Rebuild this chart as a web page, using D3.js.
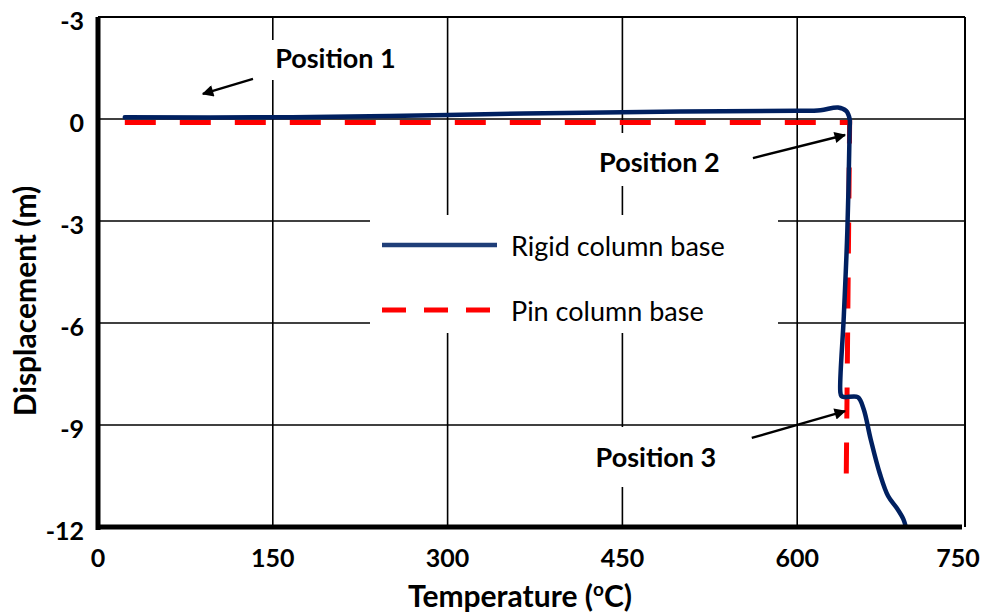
<!DOCTYPE html>
<html>
<head>
<meta charset="utf-8">
<script src="https://cdn.jsdelivr.net/npm/d3@7/dist/d3.min.js"></script>
<style>
  html, body { margin: 0; padding: 0; background: #fff; }
  svg { display: block; font-family: Lato, "Open Sans", sans-serif; }
</style>
</head>
<body>
<svg id="chart" width="985" height="615"></svg>
<script>
// ---- data ----
const xTickValues = [0, 150, 300, 450, 600, 750];
const xTickLabels = ["0", "150", "300", "450", "600", "750"];
const yTickValues = [3, 0, -3, -6, -9, -12];
const yTickLabels = ["-3", "0", "-3", "-6", "-9", "-12"];

const seriesNames = ["Rigid column base", "Pin column base"];

const rigidTemp = [23, 150, 250, 300, 400, 500, 600, 620, 635, 642, 645, 645, 643, 640, 637, 638, 641, 652, 657, 663, 671, 678, 686, 691, 693];
const rigidDisp = [0.05, 0.05, 0.09, 0.12, 0.18, 0.22, 0.24, 0.26, 0.34, 0.24, 0.0, -0.3, -3.32, -5.8, -8.03, -8.15, -8.18, -8.18, -8.53, -9.41, -10.44, -11.09, -11.47, -11.76, -11.97];

const pinTemp = [23, 645, 642];
const pinDisp = [-0.1, -0.1, -10.85];

const annotationLabels = ["Position 1", "Position 2", "Position 3"];
const annotationTextT = [152, 430, 427];
const annotationTextD = [1.82, -1.24, -9.94];
const arrowFromT = [133, 562, 561];
const arrowFromD = [1.18, -1.15, -9.38];
const arrowToT = [90, 641, 641];
const arrowToD = [0.74, -0.47, -8.59];

// ---- layout ----
const svg = d3.select("#chart");
const pL = 98, pR = 965, pT = 17, pB = 527;
const x = d3.scaleLinear().domain([0, 750]).range([98, 972]);
const y = d3.scaleLinear().domain([3, -12]).range([17, 527]);

svg.append("defs").append("marker")
  .attr("id", "arrow").attr("viewBox", "0 0 10 10")
  .attr("refX", 9).attr("refY", 5)
  .attr("markerWidth", 6.5).attr("markerHeight", 4.8)
  .attr("markerUnits", "strokeWidth")
  .attr("orient", "auto")
  .append("path").attr("d", "M0,0 L10,5 L0,10 Z").attr("fill", "#000");

// gridlines
const grid = svg.append("g");
grid.selectAll("line.v").data(xTickValues.filter(v => v > 0 && v < 750)).join("line")
  .attr("class", "v")
  .attr("x1", d => x(d)).attr("x2", d => x(d))
  .attr("y1", pT).attr("y2", pB)
  .attr("stroke", "#000").attr("stroke-width", 1.6);
grid.selectAll("line.h").data(yTickValues.filter(v => v < 3 && v > -12)).join("line")
  .attr("class", "h")
  .attr("x1", pL).attr("x2", pR)
  .attr("y1", d => y(d)).attr("y2", d => y(d))
  .attr("stroke", "#000").attr("stroke-width", 1.6);

// frame
svg.append("line").attr("x1", pL).attr("x2", pR).attr("y1", pT).attr("y2", pT)
  .attr("stroke", "#000").attr("stroke-width", 2);
svg.append("line").attr("x1", pR).attr("x2", pR).attr("y1", pT).attr("y2", pB)
  .attr("stroke", "#000").attr("stroke-width", 2);

// annotation background boxes (cover gridlines)
const boxes = [[262, 40, 143, 40], [585, 133, 145, 53], [585, 427, 140, 60]];
svg.selectAll("rect.ab").data(boxes).join("rect")
  .attr("class", "ab")
  .attr("x", d => d[0]).attr("y", d => d[1]).attr("width", d => d[2]).attr("height", d => d[3])
  .attr("fill", "#fff");

// legend background
svg.append("rect").attr("x", 370).attr("y", 215).attr("width", 408).attr("height", 118).attr("fill", "#fff");

// series
const line = d3.line().x(d => x(d[0])).y(d => y(d[1]));
const rigidPts = rigidTemp.map((t, i) => [t, rigidDisp[i]]);
const pinPts = pinTemp.map((t, i) => [t, pinDisp[i]]);

svg.append("path").datum(pinPts)
  .attr("d", line)
  .attr("fill", "none").attr("stroke", "#ff0000").attr("stroke-width", 5)
  .attr("stroke-dasharray", "31,24");

svg.append("path").datum(rigidPts)
  .attr("d", d3.line().x(d => x(d[0])).y(d => y(d[1])).curve(d3.curveCatmullRom.alpha(0.5)))
  .attr("fill", "none").attr("stroke", "#002060").attr("stroke-width", 4.5)
  .attr("stroke-linejoin", "round").attr("stroke-linecap", "round");

// axes lines (thick)
svg.append("line").attr("x1", pL).attr("x2", pL).attr("y1", pT).attr("y2", pB + 3)
  .attr("stroke", "#000").attr("stroke-width", 5);
svg.append("line").attr("x1", pL - 2).attr("x2", 962).attr("y1", pB).attr("y2", pB)
  .attr("stroke", "#000").attr("stroke-width", 5);

// tick labels
svg.append("g").selectAll("text").data(yTickValues).join("text")
  .attr("x", 84).attr("y", d => y(d) + 3)
  .attr("text-anchor", "end").attr("dominant-baseline", "central")
  .attr("font-size", 25).attr("font-weight", "bold")
  .text((d, i) => yTickLabels[i]);

svg.append("g").selectAll("text").data(xTickValues).join("text")
  .attr("x", d => Math.min(x(d), 958)).attr("y", 567)
  .attr("text-anchor", "middle")
  .attr("font-size", 25).attr("font-weight", "bold")
  .text((d, i) => xTickLabels[i]);

// axis titles
const xt = svg.append("text").attr("x", 520).attr("y", 607)
  .attr("text-anchor", "middle").attr("font-size", 30).attr("font-weight", "bold");
xt.append("tspan").text("Temperature (");
xt.append("tspan").attr("font-size", 19).attr("dy", -11).text("o");
xt.append("tspan").attr("dy", 11).text("C)");

svg.append("text")
  .attr("transform", "translate(36,301) rotate(-90)")
  .attr("text-anchor", "middle").attr("font-size", 30).attr("font-weight", "bold")
  .text("Displacement (m)");

// legend
const legY = [245, 310];
svg.append("line").attr("x1", 382).attr("x2", 497).attr("y1", legY[0]).attr("y2", legY[0])
  .attr("stroke", "#1f3e78").attr("stroke-width", 4.5);
svg.append("line").attr("x1", 382).attr("x2", 490).attr("y1", legY[1]).attr("y2", legY[1])
  .attr("stroke", "#ff0000").attr("stroke-width", 5).attr("stroke-dasharray", "24,18");
svg.selectAll("text.leg").data(seriesNames).join("text")
  .attr("class", "leg")
  .attr("x", 511).attr("y", (d, i) => legY[i])
  .attr("dominant-baseline", "central").attr("font-size", 27)
  .text(d => d);

// annotations
annotationLabels.forEach((lab, i) => {
  svg.append("text").attr("x", x(annotationTextT[i])).attr("y", y(annotationTextD[i]))
    .attr("dominant-baseline", "central").attr("font-size", 27).attr("font-weight", "bold")
    .text(lab);
  svg.append("line")
    .attr("x1", x(arrowFromT[i])).attr("y1", y(arrowFromD[i]))
    .attr("x2", x(arrowToT[i])).attr("y2", y(arrowToD[i]))
    .attr("stroke", "#000").attr("stroke-width", 2.4)
    .attr("marker-end", "url(#arrow)");
});
</script>
</body>
</html>
